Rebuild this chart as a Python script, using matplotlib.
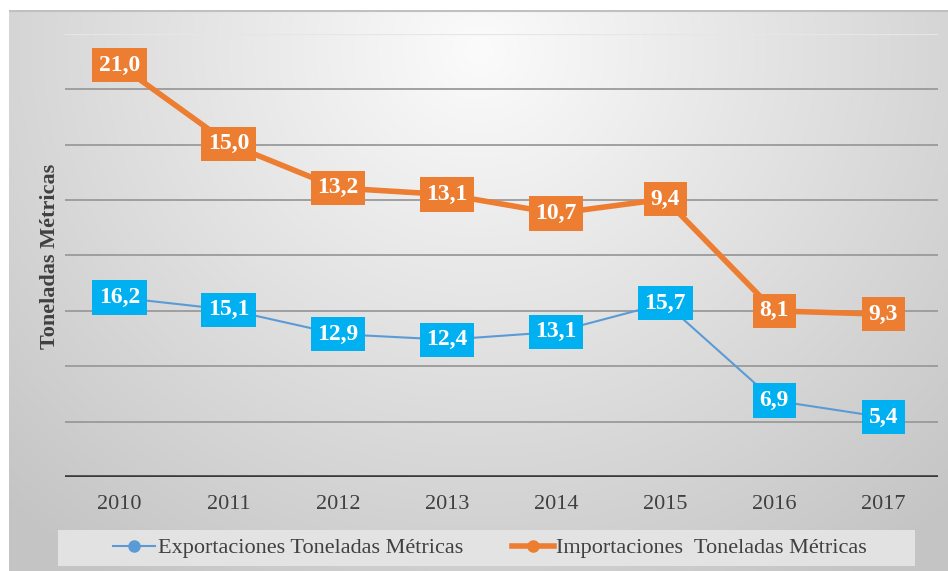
import numpy as np
import matplotlib
matplotlib.use("Agg")
import matplotlib.pyplot as plt
from matplotlib.patches import Rectangle
from matplotlib.lines import Line2D

# Data (stacked line chart: imports are drawn on top of exports)
years = ["2010", "2011", "2012", "2013", "2014", "2015", "2016", "2017"]
exportaciones = [16.2, 15.1, 12.9, 12.4, 13.1, 15.7, 6.9, 5.4]
importaciones = [21.0, 15.0, 13.2, 13.1, 10.7, 9.4, 8.1, 9.3]

export_name = "Exportaciones Toneladas Métricas"
import_name = "Importaciones  Toneladas Métricas"
y_label = "Toneladas Métricas"

c_exp_line = "#5B9BD5"
c_exp_box = "#00B0F0"
c_imp = "#ED7D31"
c_text = "#404040"

plt.rcParams["font.family"] = ["Liberation Serif", "DejaVu Serif"]

W, H = 948, 571
fig = plt.figure(figsize=(W / 100, H / 100), dpi=100)
fig.patch.set_facecolor("white")

# chart area background with radial gradient
bg = fig.add_axes([9 / W, 0, 1 - 9 / W, 1 - 10 / H])
bg.set_axis_off()
yy, xx = np.mgrid[0:561, 0:939]
d = np.sqrt(((xx - 470) / 600.0) ** 2 + ((yy - 40) / 560.0) ** 2)
shade = np.clip(0.985 - 0.19 * d, 0.77, 1.0)
bg.imshow(np.dstack([shade] * 3), aspect="auto", extent=[0, 939, 561, 0])
bg.plot([0, 939], [1, 1], color="#c0c0c0", lw=1.5)
bg.set_xlim(0, 939)
bg.set_ylim(561, 0)
# legend panel
bg.add_patch(Rectangle((49, 520), 857, 36, facecolor="#e6e6e6", edgecolor="none", alpha=0.9))

ax = fig.add_axes([65 / W, 1 - 477 / H, (938 - 65) / W, (477 - 34) / H])
ax.patch.set_alpha(0)
x = np.arange(len(years))
exp = np.array(exportaciones)
imp_stacked = exp + np.array(importaciones)

ax.set_xlim(-0.5, len(years) - 0.5)
ax.set_ylim(0, 40)
for g in range(5, 41, 5):
    ax.axhline(g, color="#e6e6e6" if g == 40 else "#9a9a9a", lw=1.6 if g == 40 else 1.3, zorder=1)
ax.axhline(0, color="#3a3a3a", lw=2.6, zorder=2)

ax.plot(x, exp, color=c_exp_line, lw=1.5, zorder=3)
ax.plot(x, imp_stacked, color=c_imp, lw=4, zorder=3)

for xi, yv, v in zip(x, exp, exportaciones):
    ax.text(xi, yv, f"{v:.1f}".replace(".", ","), ha="center", va="center",
            color="white", fontsize=17, fontweight="bold", zorder=5,
            bbox=dict(boxstyle="square,pad=0.28", facecolor=c_exp_box, edgecolor="none"))
for xi, yv, v in zip(x, imp_stacked, importaciones):
    ax.text(xi, yv, f"{v:.1f}".replace(".", ","), ha="center", va="center",
            color="white", fontsize=17, fontweight="bold", zorder=5,
            bbox=dict(boxstyle="square,pad=0.28", facecolor=c_imp, edgecolor="none"))

ax.set_xticks(x)
ax.set_xticklabels(years, fontsize=16, color=c_text)
ax.tick_params(axis="x", length=0, pad=13)
ax.set_yticks([])
for s in ax.spines.values():
    s.set_visible(False)

fig.text(50 / W, 1 - 256 / H, y_label, rotation=90, ha="center", va="center",
         fontsize=16, fontweight="bold", color=c_text)

handles = [
    Line2D([], [], color=c_exp_line, lw=1.5, marker="o", markersize=8,
           markerfacecolor=c_exp_line, markeredgecolor=c_exp_line),
    Line2D([], [], color=c_imp, lw=4, marker="o", markersize=8,
           markerfacecolor=c_imp, markeredgecolor=c_imp),
]
fig.legend(handles, [export_name, import_name], loc="center",
           bbox_to_anchor=(490 / W, 1 - 548 / H), ncol=2, frameon=False,
           fontsize=16, labelcolor=c_text, handlelength=1.9, handletextpad=0.1,
           columnspacing=2.2)

fig.savefig("out.png", dpi=100)
